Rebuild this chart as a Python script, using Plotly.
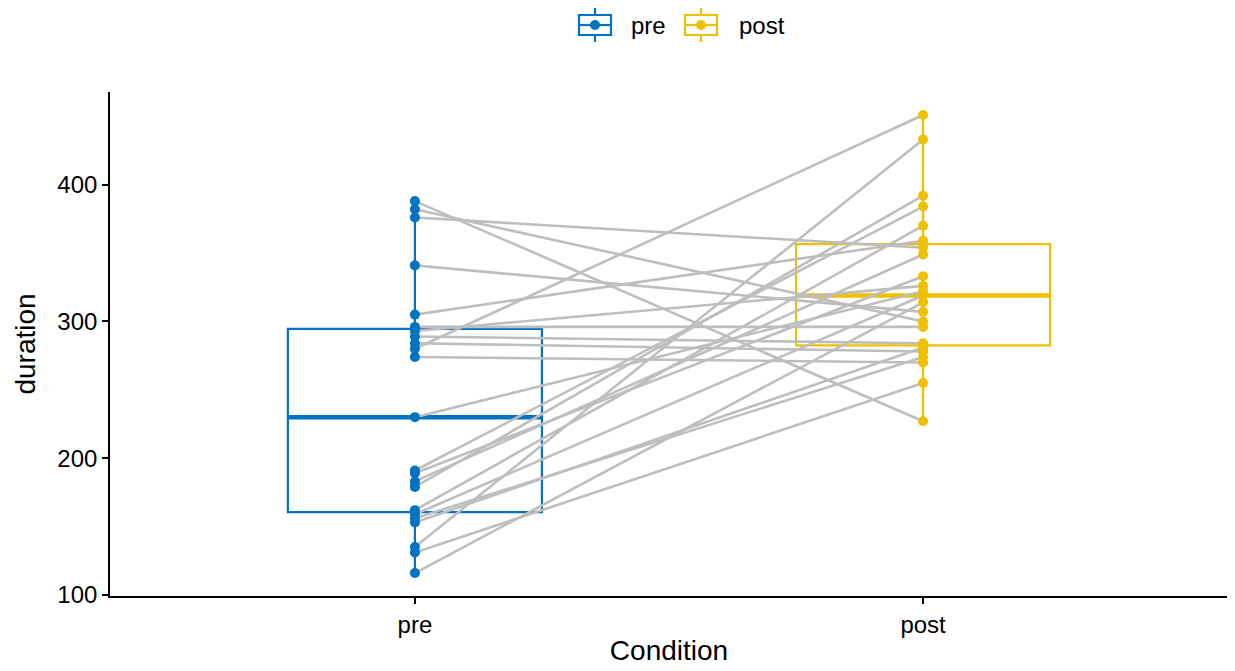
import numpy as np
import plotly.graph_objects as go

categories = ["pre", "post"]
colors = ["#0073C2", "#EFC000"]

# paired observations (pre -> post)
pre_values = [388, 382, 376, 341, 305, 296, 293, 289, 284, 280, 274, 230,
              191, 189, 183, 179, 162, 159, 156, 153, 135, 131, 116]
post_values = [227, 300, 354, 307, 359, 296, 326, 284, 278, 451, 270, 322,
               384, 333, 349, 392, 370, 319, 274, 281, 433, 255, 314]

series = [pre_values, post_values]
xpos = [0, 1]
box_width = 0.5

fig = go.Figure()

# boxes
for i, (name, vals) in enumerate(zip(categories, series)):
    v = np.array(vals, dtype=float)
    q1, med, q3 = np.percentile(v, [25, 50, 75])
    iqr = q3 - q1
    lo = v[v >= q1 - 1.5 * iqr].min()
    hi = v[v <= q3 + 1.5 * iqr].max()
    fig.add_trace(go.Box(
        x=[xpos[i]], q1=[q1], median=[med], q3=[q3],
        lowerfence=[lo], upperfence=[hi],
        name=name, width=box_width, whiskerwidth=0,
        line=dict(color=colors[i], width=2.2),
        fillcolor="rgba(255,255,255,0)",
        boxpoints=False, showlegend=False,
        hoverinfo="skip",
    ))
    # thicker median line as in ggplot
    fig.add_trace(go.Scatter(
        x=[xpos[i] - box_width / 2, xpos[i] + box_width / 2], y=[med, med],
        mode="lines", line=dict(color=colors[i], width=4.5),
        showlegend=False, hoverinfo="skip",
    ))

# paired lines
lx, ly = [], []
for a, b in zip(pre_values, post_values):
    lx += [xpos[0], xpos[1], None]
    ly += [a, b, None]
fig.add_trace(go.Scatter(x=lx, y=ly, mode="lines",
                         line=dict(color="#BEBEBE", width=2.6),
                         showlegend=False, hoverinfo="skip"))

# points
for i, (name, vals) in enumerate(zip(categories, series)):
    fig.add_trace(go.Scatter(
        x=[xpos[i]] * len(vals), y=vals, mode="markers",
        marker=dict(color=colors[i], size=10),
        showlegend=False,
    ))

# ggplot-style legend keys (boxplot glyph + point), drawn in page pixels
PX0, PW, PY0, PH = 110.0, 1118.0, 596.0, 504.0  # plot area in page pixels


def px(x):
    return (x - PX0) / PW


def py(y):
    return (PY0 - y) / PH


key_centers = [595, 701]
text_left = [629, 737]
key_cy = 25
for i, name in enumerate(categories):
    cx = key_centers[i]
    c = colors[i]
    fig.add_shape(type="rect", xref="paper", yref="paper",
                  x0=px(cx - 16), x1=px(cx + 16), y0=py(key_cy + 10), y1=py(key_cy - 10),
                  line=dict(color=c, width=2.2), fillcolor="white")
    fig.add_shape(type="line", xref="paper", yref="paper",
                  x0=px(cx - 16), x1=px(cx + 16), y0=py(key_cy), y1=py(key_cy),
                  line=dict(color=c, width=2.2))
    fig.add_shape(type="line", xref="paper", yref="paper",
                  x0=px(cx), x1=px(cx), y0=py(key_cy - 10), y1=py(key_cy - 17),
                  line=dict(color=c, width=2.2))
    fig.add_shape(type="line", xref="paper", yref="paper",
                  x0=px(cx), x1=px(cx), y0=py(key_cy + 10), y1=py(key_cy + 17),
                  line=dict(color=c, width=2.2))
    fig.add_shape(type="circle", xref="paper", yref="paper",
                  x0=px(cx - 5), x1=px(cx + 5), y0=py(key_cy + 5), y1=py(key_cy - 5),
                  line=dict(color=c, width=0), fillcolor=c)
    fig.add_annotation(xref="paper", yref="paper", x=px(text_left[i]), y=py(key_cy),
                       text=name, showarrow=False, xanchor="left", yanchor="middle",
                       font=dict(size=24, color="black"))

font = "Liberation Sans, Arial, sans-serif"
fig.update_layout(
    width=1227, height=663,
    paper_bgcolor="white", plot_bgcolor="white",
    margin=dict(l=102, r=7, t=84, b=75),
    font=dict(family=font, size=24, color="black"),
    showlegend=False,
)
fig.update_xaxes(
    range=[-0.6, 1.6], tickvals=xpos, ticktext=categories,
    showline=True, linecolor="black", linewidth=1.6,
    ticks="outside", ticklen=6, tickcolor="black", tickwidth=1.6,
    showgrid=False, zeroline=False,
    title=dict(text="Condition", standoff=4, font=dict(size=28)),
    tickfont=dict(size=24),
)
fig.update_yaxes(
    range=[99.2, 467.8], tickvals=[100, 200, 300, 400],
    showline=True, linecolor="black", linewidth=1.6,
    ticks="outside", ticklen=6, tickcolor="black", tickwidth=1.6,
    showgrid=False, zeroline=False,
    title=dict(text="duration", standoff=14, font=dict(size=28)),
    tickfont=dict(size=24),
)

fig.write_html("out.html")
